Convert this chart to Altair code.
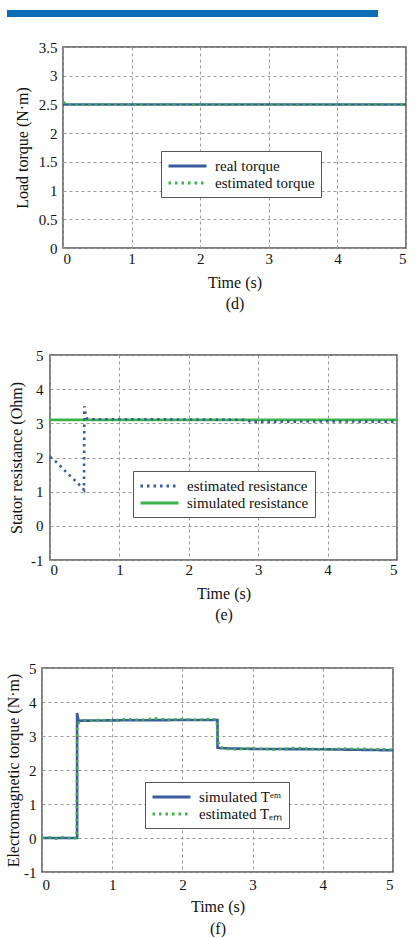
import altair as alt
import pandas as pd

FONT = "Liberation Serif"
BLUE = "#3a5c9c"
GREEN = "#3cb44b"
SOLID = [1, 0]
DOTS = [2.5, 4]
CONTENT_W = 408

# ---- (d) Load torque ----
d_names = ["real torque", "estimated torque"]
d_real_t = [0.0, 5.0]
d_real_v = [2.5, 2.5]
d_est_t = [0.0, 0.02, 0.05, 0.5, 1.0, 1.5, 2.0, 2.5, 3.0, 3.5, 4.0, 4.5, 5.0]
d_est_v = [2.54, 2.53, 2.5, 2.5, 2.5, 2.5, 2.5, 2.5, 2.5, 2.5, 2.5, 2.5, 2.5]

# ---- (e) Stator resistance ----
e_names = ["estimated resistance", "simulated resistance"]
e_sim_t = [0.0, 5.0]
e_sim_v = [3.1, 3.1]
e_est_t = [0.0, 0.1, 0.2, 0.3, 0.4, 0.49, 0.495, 0.5, 0.52, 0.6, 1.0, 1.5, 2.0, 2.5, 2.8, 2.9, 3.5, 4.0, 4.5, 5.0]
e_est_v = [2.02, 1.85, 1.64, 1.44, 1.25, 1.05, 3.5, 3.45, 3.15, 3.12, 3.12, 3.12, 3.11, 3.11, 3.1, 3.05, 3.05, 3.06, 3.05, 3.05]

# ---- (f) Electromagnetic torque ----
f_names = ["simulated T\u1d49\u1d50", "estimated T\u2091\u2098"]
f_sim_t = [0.0, 0.5, 0.5, 0.52, 1.0, 2.0, 2.5, 2.5, 2.55, 3.0, 4.0, 5.0]
f_sim_v = [0.0, 0.0, 3.68, 3.45, 3.46, 3.47, 3.47, 2.66, 2.64, 2.62, 2.61, 2.58]
f_est_t = [0.0, 0.1, 0.2, 0.3, 0.4, 0.48, 0.495, 0.5, 0.52, 0.6, 0.8, 1.0, 1.2, 1.4, 1.6, 1.8, 2.0, 2.2, 2.4, 2.49, 2.5, 2.53,
           2.7, 3.0, 3.3, 3.6, 4.0, 4.3, 4.6, 5.0]
f_est_v = [0.0, 0.02, -0.02, 0.03, -0.01, 0.0, 0.0, 3.3, 3.38, 3.45, 3.47, 3.46, 3.5, 3.47, 3.52, 3.48, 3.5, 3.47, 3.5, 3.48, 2.9,
           2.68, 2.6, 2.64, 2.6, 2.65, 2.6, 2.63, 2.62, 2.6]


def rows(series):
    out = []
    for name, ts, vs in series:
        for i, (t, v) in enumerate(zip(ts, vs)):
            out.append({"series": name, "t": t, "v": v, "i": i})
    return pd.DataFrame(out)


def blank(width, height):
    return alt.Chart(alt.Data(values=[{"a": 1}])).mark_rect(opacity=0).encode(
        x=alt.value(0), x2=alt.value(width), y=alt.value(0), y2=alt.value(1)
    ).properties(width=width, height=height,
                 view=alt.ViewBackground(strokeOpacity=0, fillOpacity=0, strokeWidth=0))


def panel(df, names, colors, dashes, ydom, yvals, ytitle, w, h, plotx, lead, ext_top, ext_bot,
          legx, legy, caption, xlabpad, xtitlepad, xlh, ylabpad, ytitlepad, extra=None):
    legend = alt.Legend(orient="none", legendX=legx, legendY=legy, title=None,
                        symbolType="M-1,0H4.07", symbolSize=225, symbolStrokeWidth=3,
                        labelFont=FONT, labelFontSize=15, labelColor="#111",
                        fillColor="white", strokeColor="#555", padding=6,
                        rowPadding=0, labelOffset=30, cornerRadius=0)
    line = alt.Chart(df).mark_line(strokeWidth=2.6, strokeCap="butt").encode(
        x=alt.X("t:Q", scale=alt.Scale(domain=[0, 5], nice=False),
                axis=alt.Axis(values=[0, 1, 2, 3, 4, 5], title=["Time (s)", caption], grid=True,
                              labelPadding=xlabpad, titlePadding=xtitlepad,
                              titleLineHeight=xlh)),
        y=alt.Y("v:Q", scale=alt.Scale(domain=ydom, nice=False, zero=False),
                axis=alt.Axis(values=yvals, title=ytitle, grid=True,
                              labelExpr="'' + datum.value",
                              labelPadding=ylabpad, titlePadding=ytitlepad)),
        color=alt.Color("series:N", scale=alt.Scale(domain=names, range=colors), legend=legend),
        strokeDash=alt.StrokeDash("series:N", scale=alt.Scale(domain=names, range=dashes), legend=legend),
        order="i:Q",
    )
    k = plotx - lead
    # invisible frame fixing this panel's full extent on the page
    spacer = alt.Chart(alt.Data(values=[{"a": 1}])).mark_rect(opacity=0).encode(
        x=alt.value(-k), x2=alt.value(CONTENT_W - plotx),
        y=alt.value(-ext_top), y2=alt.value(h + ext_bot))
    layers = [spacer, line]
    if extra is not None:
        layers.append(extra)
    body = alt.layer(*layers).properties(width=w, height=h)
    return alt.hconcat(blank(lead, 1), body, spacing=0).resolve_scale(
        y="independent", color="independent", strokeDash="independent")


df_d = rows([(d_names[0], d_real_t, d_real_v), (d_names[1], d_est_t, d_est_v)])
df_e = rows([(e_names[1], e_sim_t, e_sim_v), (e_names[0], e_est_t, e_est_v)])
df_f = rows([(f_names[0], f_sim_t, f_sim_v), (f_names[1], f_est_t, f_est_v)])

header = alt.Chart(alt.Data(values=[{"a": 1}])).mark_rect(color="#0b6db8").encode(
    x=alt.value(-56), x2=alt.value(315), y=alt.value(-37), y2=alt.value(-30))

pd_ = panel(df_d, d_names, [BLUE, GREEN], [SOLID, DOTS], [0, 3.5],
            [0, 0.5, 1, 1.5, 2, 2.5, 3, 3.5], "Load torque (N\u00b7m)",
            343, 201, 61, 6, 46, 68, 98, 104, "(d)", 3, 8, 21, 6, 8, extra=header)
pe = panel(df_e, e_names, [BLUE, GREEN], [DOTS, SOLID], [-1, 5],
           [-1, 0, 1, 2, 3, 4, 5], "Stator resistance (Ohm)",
           347, 205, 49, 4, 37, 68, 83, 116, "(e)", 2, 8, 21, 7, 6)
pf = panel(df_f, f_names, [BLUE, GREEN], [SOLID, DOTS], [-1, 5],
           [-1, 0, 1, 2, 3, 4, 5], "Electromagnetic torque (N\u00b7m)",
           351, 204, 41, 1, 38, 61, 103, 114, "(f)", 5, 6, 22, 6, 2)

chart = alt.vconcat(pd_, pe, pf, spacing=0).resolve_scale(
    y="independent", color="independent", strokeDash="independent"
).resolve_legend(color="independent", strokeDash="independent").properties(
    padding={"left": 0, "top": 0, "right": 0, "bottom": 0}, background="white",
    autosize=alt.AutoSizeParams(type="pad", contains="content")
).configure_view(stroke="#555", strokeWidth=1.5).configure_axis(
    labelFont=FONT, titleFont=FONT, labelFontSize=15, titleFontSize=16,
    titleFontWeight="normal", labelColor="#111", titleColor="#111",
    ticks=False, domain=False, gridColor="#999", gridDash=[3, 3], gridWidth=1
)

chart.save("out.html", embed_options={"renderer": "svg", "actions": False})
